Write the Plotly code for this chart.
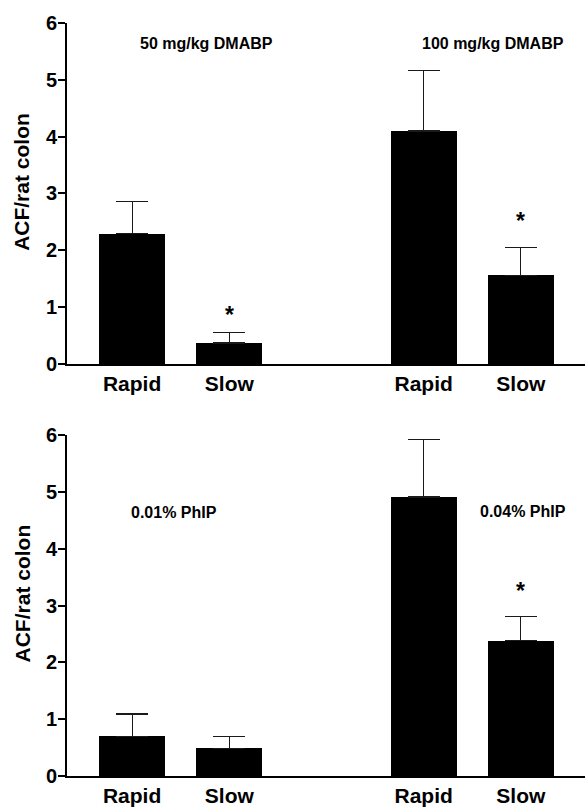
import plotly.graph_objects as go
from plotly.subplots import make_subplots

# ---- data ----
categories = ["Rapid", "Slow", "Rapid", "Slow"]
x_pos = [0, 1, 3, 4]

top_means = [2.29, 0.37, 4.10, 1.56]
top_err = [0.57, 0.18, 1.07, 0.49]
top_groups = ["50 mg/kg DMABP", "100 mg/kg DMABP"]

bot_means = [0.70, 0.49, 4.91, 2.38]
bot_err = [0.39, 0.20, 1.01, 0.43]
bot_groups = ["0.01% PhIP", "0.04% PhIP"]

top_star_x = [1, 4]
top_star_y = [0.94, 2.59]
bot_star_x = [4]
bot_star_y = [3.33]

y_title = "ACF/rat colon"
y_ticks = [0, 1, 2, 3, 4, 5, 6]

FONT = "Liberation Sans, Arial, sans-serif"

fig = make_subplots(rows=2, cols=1, vertical_spacing=0.0)

for row, means, errs in [(1, top_means, top_err), (2, bot_means, bot_err)]:
    fig.add_trace(
        go.Bar(
            x=x_pos, y=means, width=0.68,
            marker=dict(color="black", line=dict(width=0)),
            error_y=dict(type="data", array=errs, arrayminus=[0] * len(errs),
                         symmetric=False, width=16, thickness=1.2, color="#1a1a1a"),
            showlegend=False,
        ),
        row=row, col=1,
    )

axis_common = dict(showline=True, linewidth=2, linecolor="black", showgrid=False,
                   zeroline=False)
for i, dom in [(1, [0.5472, 1.0]), (2, [0.0, 0.4528])]:
    fig.update_xaxes(range=[-0.67, 4.66], tickvals=x_pos, ticktext=categories,
                     ticks="", tickfont=dict(family=FONT, size=21, color="black", weight="bold"),
                     row=i, col=1, **axis_common)
    fig.update_yaxes(range=[0, 6], tickvals=y_ticks, ticks="outside", ticklen=7,
                     tickwidth=2, tickcolor="black", domain=dom, ticklabelstandoff=-3,
                     tickfont=dict(family=FONT, size=20, color="black", weight="bold"),
                     row=i, col=1, **axis_common)

annots = []
# group labels
annots.append(dict(x=0.77, y=5.64, xref="x", yref="y", text=top_groups[0]))
annots.append(dict(x=3.71, y=5.64, xref="x", yref="y", text=top_groups[1]))
annots.append(dict(x=0.43, y=4.63, xref="x2", yref="y2", text=bot_groups[0]))
annots.append(dict(x=4.02, y=4.66, xref="x2", yref="y2", text=bot_groups[1]))
for a in annots:
    a.update(showarrow=False, xanchor="center", yanchor="middle",
             font=dict(family=FONT, size=16, color="black", weight="bold"))

for xs, ys, xr, yr in [(top_star_x, top_star_y, "x", "y"), (bot_star_x, bot_star_y, "x2", "y2")]:
    for sx, sy in zip(xs, ys):
        annots.append(dict(x=sx, y=sy, xref=xr, yref=yr, text="*", showarrow=False,
                           xanchor="center", yanchor="middle", yshift=-4,
                           font=dict(family=FONT, size=23, color="black", weight="bold")))

for yy in [0.789, 0.2424]:
    annots.append(dict(x=-0.0869, y=yy, xref="paper", yref="paper", text=y_title,
                       textangle=-90, showarrow=False, xanchor="center", yanchor="middle",
                       font=dict(family=FONT, size=21, color="black", weight="bold")))

fig.update_layout(
    width=585, height=807,
    margin=dict(l=67, r=0, t=23, b=25),
    plot_bgcolor="white", paper_bgcolor="white",
    annotations=annots,
    bargap=0,
)

fig.write_html("out.html")
